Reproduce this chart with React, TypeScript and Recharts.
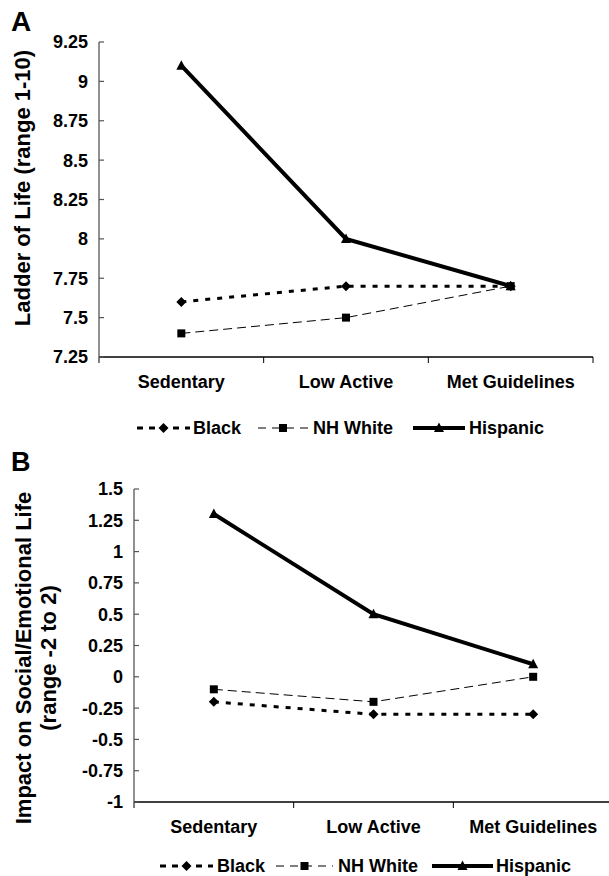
import React from 'react';
import { LineChart, Line, XAxis, YAxis } from 'recharts';

const categories = ['Sedentary', 'Low Active', 'Met Guidelines'];
const seriesNames = ['Black', 'NH White', 'Hispanic'];

const ladderBlack = [7.6, 7.7, 7.7];
const ladderWhite = [7.4, 7.5, 7.7];
const ladderHispanic = [9.1, 8.0, 7.7];
const ladderTicks = [7.25, 7.5, 7.75, 8, 8.25, 8.5, 8.75, 9, 9.25];

const impactBlack = [-0.2, -0.3, -0.3];
const impactWhite = [-0.1, -0.2, 0];
const impactHispanic = [1.3, 0.5, 0.1];
const impactTicks = [-1, -0.75, -0.5, -0.25, 0, 0.25, 0.5, 0.75, 1, 1.25, 1.5];

const xTicks = [0, 0.5, 1, 1.5, 2, 2.5, 3];

const FONT = '"Liberation Sans", Arial, Helvetica, sans-serif';

const ladderData = categories.map((c, i) => ({
  pos: i + 0.5,
  name: c,
  black: ladderBlack[i],
  white: ladderWhite[i],
  hispanic: ladderHispanic[i],
}));

const impactData = categories.map((c, i) => ({
  pos: i + 0.5,
  name: c,
  black: impactBlack[i],
  white: impactWhite[i],
  hispanic: impactHispanic[i],
}));

const Diamond = (p: any) => {
  const { cx, cy } = p;
  if (cx == null || cy == null) return null;
  return <path d={`M${cx},${cy - 5}L${cx + 5},${cy}L${cx},${cy + 5}L${cx - 5},${cy}Z`} fill="#000" />;
};
const Square = (p: any) => {
  const { cx, cy } = p;
  if (cx == null || cy == null) return null;
  return <rect x={cx - 4} y={cy - 4} width={8} height={8} fill="#000" />;
};
const Triangle = (p: any) => {
  const { cx, cy } = p;
  if (cx == null || cy == null) return null;
  return <path d={`M${cx},${cy - 5.5}L${cx + 5},${cy + 4}L${cx - 5},${cy + 4}Z`} fill="#000" />;
};

const seriesStyles = [
  { key: 'black', width: 3, dash: '5 7', dot: Diamond },
  { key: 'white', width: 1, dash: '9 5', dot: Square },
  { key: 'hispanic', width: 4, dash: undefined as any, dot: Triangle },
];

const XTick = (p: any) => {
  const { x, y, payload } = p;
  const v = payload.value;
  if (Number.isInteger(v)) {
    return <line x1={x} y1={y} x2={x} y2={y + 6} stroke="#000" strokeWidth={1} />;
  }
  return (
    <text x={x} y={y + 31} textAnchor="middle" fontFamily={FONT} fontWeight="bold" fontSize={18} fill="#000">
      {categories[Math.floor(v)]}
    </text>
  );
};

const YTick = (p: any) => {
  const { x, y, payload } = p;
  return (
    <g>
      <line x1={x} y1={y} x2={x + 5} y2={y} stroke="#555" strokeWidth={1.2} />
      <text x={x - 11} y={y} dy="0.36em" textAnchor="end" fontFamily={FONT} fontWeight="bold" fontSize={18} fill="#000">
        {String(payload.value)}
      </text>
    </g>
  );
};

const ladderLabel = () => (
  <text
    transform="translate(30,188) rotate(-90)"
    textAnchor="middle"
    fontFamily={FONT}
    fontWeight="bold"
    fontSize={22}
    fill="#000"
  >
    Ladder of Life (range 1-10)
  </text>
);

const impactLabel = () => (
  <g>
    <text
      transform="translate(31,218) rotate(-90)"
      textAnchor="middle"
      fontFamily={FONT}
      fontWeight="bold"
      fontSize={22}
      fill="#000"
    >
      Impact on Social/Emotional Life
    </text>
    <text
      transform="translate(56,218) rotate(-90)"
      textAnchor="middle"
      fontFamily={FONT}
      fontWeight="bold"
      fontSize={22}
      fill="#000"
    >
      (range -2 to 2)
    </text>
  </g>
);

const renderLines = () =>
  seriesStyles.map((s) => (
    <Line
      key={s.key}
      type="linear"
      dataKey={s.key}
      stroke="#000"
      strokeWidth={s.width}
      strokeDasharray={s.dash}
      dot={s.dot}
      activeDot={false}
      isAnimationActive={false}
      legendType="none"
    />
  ));

const LegendRow = ({ y, items }: { y: number; items: { x1: number; x2: number; tx: number }[] }) => (
  <g>
    {items.map((it, i) => {
      const s = seriesStyles[i];
      const Dot = s.dot;
      const cx = (it.x1 + it.x2) / 2;
      return (
        <g key={i}>
          <line
            x1={it.x1}
            y1={y}
            x2={it.x2}
            y2={y}
            stroke="#000"
            strokeWidth={s.width}
            strokeDasharray={s.dash ? (i === 0 ? '6 6' : '8 6') : undefined}
          />
          <Dot cx={cx} cy={y} />
          <text x={it.tx} y={y} dy="0.36em" fontFamily={FONT} fontWeight="bold" fontSize={18} fill="#000">
            {seriesNames[i]}
          </text>
        </g>
      );
    })}
  </g>
);

export default function App() {
  return (
    <div style={{ position: 'absolute', left: 0, top: 0, width: 609, height: 876, overflow: 'hidden', background: '#fff' }}>
      <div style={{ position: 'absolute', left: 0, top: 0 }}>
        <LineChart width={609} height={410} data={ladderData} margin={{ top: 42, right: 16, bottom: 0, left: 0 }}>
          <XAxis
            dataKey="pos"
            type="number"
            domain={[0, 3]}
            ticks={xTicks}
            interval={0}
            tickSize={0}
            tickMargin={0}
            tickLine={false}
            axisLine={{ stroke: '#000', strokeWidth: 1.3 }}
            tick={XTick}
            height={53}
          />
          <YAxis
            type="number"
            domain={[7.25, 9.25]}
            ticks={ladderTicks}
            interval={0}
            tickSize={0}
            tickMargin={0}
            tickLine={false}
            axisLine={{ stroke: '#555', strokeWidth: 1.3 }}
            tick={YTick}
            width={99}
            label={ladderLabel}
          />
          {renderLines()}
        </LineChart>
      </div>
      <div style={{ position: 'absolute', left: 0, top: 440 }}>
        <LineChart width={620} height={415} data={impactData} margin={{ top: 49, right: 7, bottom: 0, left: 0 }}>
          <XAxis
            dataKey="pos"
            type="number"
            domain={[0, 3]}
            ticks={xTicks}
            interval={0}
            tickSize={0}
            tickMargin={0}
            tickLine={false}
            axisLine={{ stroke: '#000', strokeWidth: 1.3 }}
            tick={XTick}
            height={53}
          />
          <YAxis
            type="number"
            domain={[-1, 1.5]}
            ticks={impactTicks}
            interval={0}
            tickSize={0}
            tickMargin={0}
            tickLine={false}
            axisLine={{ stroke: '#555', strokeWidth: 1.3 }}
            tick={YTick}
            width={134}
            label={impactLabel}
          />
          {renderLines()}
        </LineChart>
      </div>
      <svg width={609} height={876} style={{ position: 'absolute', left: 0, top: 0, pointerEvents: 'none' }}>
        <text x={11} y={31} fontFamily={FONT} fontWeight="bold" fontSize={28} fill="#000">A</text>
        <text x={11} y={471} fontFamily={FONT} fontWeight="bold" fontSize={27} fill="#000">B</text>
        <LegendRow
          y={428}
          items={[
            { x1: 137, x2: 190, tx: 193 },
            { x1: 258, x2: 308, tx: 313 },
            { x1: 413, x2: 465, tx: 469 },
          ]}
        />
        <LegendRow
          y={866}
          items={[
            { x1: 160, x2: 213, tx: 217 },
            { x1: 276, x2: 333, tx: 338 },
            { x1: 432, x2: 493, tx: 496 },
          ]}
        />
      </svg>
    </div>
  );
}
